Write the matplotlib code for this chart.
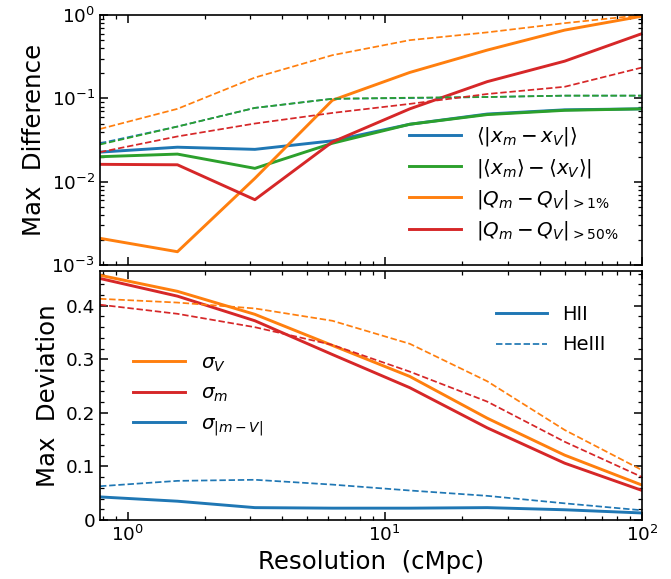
import matplotlib.pyplot as plt
import numpy as np
from matplotlib.ticker import AutoMinorLocator

# resolution in cMpc
res = [0.78125, 1.5625, 3.125, 6.25, 12.5, 25, 50, 100]

# max difference, HII (solid) and HeIII (dashed)
xdiff_hii = [0.0227, 0.026, 0.0245, 0.031, 0.049, 0.065, 0.073, 0.075]
mdiff_hii = [0.020, 0.0215, 0.0145, 0.029, 0.049, 0.064, 0.072, 0.075]
q1_hii = [0.0021, 0.00145, 0.011, 0.095, 0.205, 0.38, 0.66, 0.97]
q50_hii = [0.0162, 0.016, 0.0061, 0.030, 0.075, 0.159, 0.28, 0.60]

xdiff_heiii = [0.029, 0.046, 0.077, 0.099, 0.101, 0.104, 0.108, 0.108]
mdiff_heiii = [0.028, 0.046, 0.077, 0.099, 0.102, 0.104, 0.108, 0.108]
q1_heiii = [0.043, 0.075, 0.178, 0.33, 0.50, 0.62, 0.80, 1.0]
q50_heiii = [0.0227, 0.035, 0.050, 0.067, 0.086, 0.113, 0.138, 0.235]

# max deviation
sigV_hii = [0.457, 0.427, 0.384, 0.326, 0.268, 0.190, 0.121, 0.065]
sigm_hii = [0.451, 0.418, 0.372, 0.309, 0.247, 0.172, 0.106, 0.055]
sigmv_hii = [0.043, 0.035, 0.023, 0.022, 0.022, 0.023, 0.019, 0.013]

sigV_heiii = [0.413, 0.406, 0.395, 0.372, 0.329, 0.259, 0.168, 0.093]
sigm_heiii = [0.402, 0.385, 0.360, 0.327, 0.277, 0.221, 0.146, 0.080]
sigmv_heiii = [0.063, 0.073, 0.075, 0.066, 0.055, 0.045, 0.031, 0.018]

blue, orange, green, red = '#1f77b4', '#ff7f0e', '#2ca02c', '#d62728'
lw_s, lw_d = 2.1, 1.25

fig = plt.figure(figsize=(6.71, 5.79), dpi=100)
ax1 = fig.add_axes([0.149, 0.542, 0.808, 0.432])
ax2 = fig.add_axes([0.149, 0.102, 0.808, 0.43])

# top panel
ax1.plot(res, xdiff_hii, color=blue, lw=lw_s, label=r'$\langle|x_m - x_V|\rangle$')
ax1.plot(res, mdiff_hii, color=green, lw=lw_s, label=r'$|\langle x_m\rangle - \langle x_V\rangle|$')
ax1.plot(res, q1_hii, color=orange, lw=lw_s, label=r'$|Q_m - Q_V|_{>1\%}$')
ax1.plot(res, q50_hii, color=red, lw=lw_s, label=r'$|Q_m - Q_V|_{>50\%}$')
ax1.plot(res, xdiff_heiii, color=blue, lw=lw_d, ls='--')
ax1.plot(res, mdiff_heiii, color=green, lw=lw_d, ls='--')
ax1.plot(res, q1_heiii, color=orange, lw=lw_d, ls='--')
ax1.plot(res, q50_heiii, color=red, lw=lw_d, ls='--')
ax1.set_xscale('log')
ax1.set_yscale('log')
ax1.set_xlim(0.78125, 100)
ax1.set_ylim(1e-3, 1)
ax1.set_ylabel('Max  Difference', fontsize=17.6)
ax1.tick_params(labelbottom=False)
ax1.legend(loc='lower right', frameon=False, fontsize=14.3, handlelength=2.6,
           borderaxespad=0.3, labelspacing=0.42, bbox_to_anchor=(0.983, 0.036))

# bottom panel
l1, = ax2.plot(res, sigV_hii, color=orange, lw=lw_s, label=r'$\sigma_V$')
l2, = ax2.plot(res, sigm_hii, color=red, lw=lw_s, label=r'$\sigma_m$')
l3, = ax2.plot(res, sigmv_hii, color=blue, lw=lw_s, label=r'$\sigma_{|m-V|}$')
ax2.plot(res, sigV_heiii, color=orange, lw=lw_d, ls='--')
ax2.plot(res, sigm_heiii, color=red, lw=lw_d, ls='--')
ax2.plot(res, sigmv_heiii, color=blue, lw=lw_d, ls='--')
ax2.set_xscale('log')
ax2.set_xlim(0.78125, 100)
ax2.set_ylim(0, 0.465)
ax2.set_yticks([0, 0.1, 0.2, 0.3, 0.4])
ax2.set_yticklabels(['0', '0.1', '0.2', '0.3', '0.4'])
ax2.yaxis.set_minor_locator(AutoMinorLocator(5))
ax2.set_xlabel('Resolution  (cMpc)', fontsize=17.6)
ax2.set_ylabel('Max  Deviation', fontsize=17.6)

leg1 = ax2.legend(handles=[l1, l2, l3], loc='center left', frameon=False, fontsize=14.3,
                  handlelength=2.6, bbox_to_anchor=(0.028, 0.5), labelspacing=0.5)
ax2.add_artist(leg1)
h1, = ax2.plot([], [], color=blue, lw=lw_s, label='HII')
h2, = ax2.plot([], [], color=blue, lw=lw_d, ls='--', label='HeIII')
ax2.legend(handles=[h1, h2], loc='upper right', frameon=False, fontsize=14,
           handlelength=2.6, labelspacing=0.6, bbox_to_anchor=(0.965, 0.935))

for ax in (ax1, ax2):
    ax.tick_params(which='both', direction='in', top=True, right=True, labelsize=13.3)
    ax.tick_params(which='major', length=6, width=1.1)
    ax.tick_params(which='minor', length=3, width=0.9)
    for sp in ax.spines.values():
        sp.set_linewidth(1.2)

fig.savefig('out.png', dpi=100)
